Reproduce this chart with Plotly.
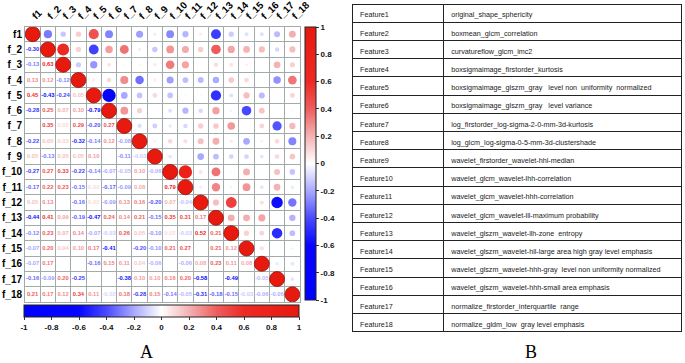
import math
import plotly.graph_objects as go

# ---------------- data ----------------
labels = ["f1", "f_2", "f_3", "f_4", "f_5", "f_6", "f_7", "f_8", "f_9",
          "f_10", "f_11", "f_12", "f_13", "f_14", "f_15", "f_16", "f_17", "f_18"]

# lower-triangle correlations, row by row (columns f1 .. previous feature)
row_f2 = [-0.30]
row_f3 = [-0.13, 0.63]
row_f4 = [0.13, 0.12, -0.12]
row_f5 = [0.45, -0.43, -0.24, 0.05]
row_f6 = [-0.28, 0.25, 0.07, 0.10, -0.79]
row_f7 = [0.00, 0.35, 0.02, 0.29, -0.20, 0.27]
row_f8 = [-0.22, 0.05, 0.03, -0.32, -0.14, 0.12, -0.08]
row_f9 = [0.05, -0.13, 0.05, 0.05, 0.10, 0.00, -0.11, -0.03]
row_f10 = [-0.27, 0.27, 0.33, -0.22, -0.14, -0.07, -0.05, 0.10, -0.06]
row_f11 = [-0.17, 0.22, 0.23, -0.15, 0.02, -0.17, -0.09, 0.08, 0.00, 0.79]
row_f12 = [0.05, 0.13, 0.00, -0.16, 0.02, -0.09, 0.13, 0.16, -0.20, 0.07, -0.04]
row_f13 = [-0.44, 0.41, 0.09, -0.19, -0.47, 0.24, 0.14, 0.21, -0.15, 0.35, 0.31, 0.17]
row_f14 = [-0.12, 0.23, 0.07, 0.14, -0.07, -0.03, 0.26, 0.05, -0.10, 0.02, -0.03, 0.52, 0.21]
row_f15 = [-0.07, 0.20, 0.04, 0.10, 0.17, -0.41, 0.00, -0.20, -0.10, 0.21, 0.27, 0.00, 0.21, 0.12]
row_f16 = [-0.07, 0.17, 0.00, 0.00, -0.16, 0.15, 0.11, 0.04, -0.06, 0.00, -0.06, 0.08, 0.23, 0.11, 0.08]
row_f17 = [-0.16, -0.09, 0.20, -0.25, 0.00, 0.00, -0.38, 0.10, 0.10, 0.16, 0.20, -0.58, 0.00, -0.49, 0.00, -0.05]
row_f18 = [0.21, 0.17, 0.12, 0.34, 0.11, -0.02, 0.18, -0.28, 0.15, -0.14, -0.05, -0.31, -0.18, -0.15, -0.03, -0.06, -0.06]

lower_rows = [row_f2, row_f3, row_f4, row_f5, row_f6, row_f7, row_f8, row_f9, row_f10,
              row_f11, row_f12, row_f13, row_f14, row_f15, row_f16, row_f17, row_f18]

bar_ticks = [-1, -0.8, -0.6, -0.4, -0.2, 0, 0.2, 0.4, 0.6, 0.8, 1]
bar_ticktext = ["-1", "-0.8", "-0.6", "-0.4", "-0.2", "0", "0.2", "0.4", "0.6", "0.8", "1"]

feature_ids = ["Feature%d" % k for k in range(1, 19)]
feature_names = [
    "original_shape_sphericity",
    "boxmean_glcm_correlation",
    "curvatureflow_glcm_imc2",
    "boxsigmaimage_firstorder_kurtosis",
    "boxsigmaimage_glszm_gray   level non  uniformity  normalized",
    "boxsigmaimage_glszm_gray   level variance",
    "log_firstorder_log-sigma-2-0-mm-3d-kurtosis",
    "log_glcm_log-sigma-0-5-mm-3d-clustershade",
    "wavelet_firstorder_wavelet-hhl-median",
    "wavelet_glcm_wavelet-lhh-correlation",
    "wavelet_glcm_wavelet-hhh-correlation",
    "wavelet_glcm_wavelet-lll-maximum probability",
    "wavelet_glszm_wavelet-llh-zone  entropy",
    "wavelet_glszm_wavelet-hll-large area high gray level emphasis",
    "wavelet_glszm_wavelet-hhh-gray  level non uniformity normalized",
    "wavelet_glszm_wavelet-hhh-small area emphasis",
    "normalize_firstorder_interquartile  range",
    "normalize_gldm_low  gray level emphasis",
]

# ---------------- styling ----------------
W, H = 685, 363
colorscale = [[0.0, "#0000FF"], [0.2, "#0606FF"], [0.3, "#4A4AFF"], [0.4, "#A9A9FF"],
              [0.5, "#FFFFFF"], [0.6, "#F4B2B2"], [0.7, "#EE5E5E"], [0.8, "#EC2A24"],
              [1.0, "#E8190F"]]


def hex2rgb(h):
    h = h.lstrip("#")
    return [int(h[i:i + 2], 16) for i in (0, 2, 4)]


def scale_color(v):
    t = (v + 1) / 2
    for k in range(len(colorscale) - 1):
        t0, c0 = colorscale[k]
        t1, c1 = colorscale[k + 1]
        if t <= t1:
            f = 0 if t1 == t0 else (t - t0) / (t1 - t0)
            a, b = hex2rgb(c0), hex2rgb(c1)
            rgb = [round(a[i] + (b[i] - a[i]) * f) for i in range(3)]
            return "rgb(%d,%d,%d)" % tuple(rgb)
    return colorscale[-1][1]


n = len(labels)
corr = [[0.0] * n for _ in range(n)]
for i in range(n):
    corr[i][i] = 1.0
for i, row in enumerate(lower_rows, start=1):
    for j, v in enumerate(row):
        corr[i][j] = v
        corr[j][i] = v

# upper triangle + diagonal : circles
cx, cy, csize, ccol, cline = [], [], [], [], []
for i in range(n):
    for j in range(i, n):
        v = corr[i][j]
        cx.append(labels[j])
        cy.append(labels[i])
        csize.append(15.0 * math.sqrt(abs(v)))
        ccol.append(v)
        cline.append(0.8 if i == j else 0)

# lower triangle : numbers
tx, ty, tt, tcol, tval = [], [], [], [], []
for i in range(n):
    for j in range(i):
        v = corr[i][j]
        tx.append(labels[j])
        ty.append(labels[i])
        tt.append("%.2f" % v)
        s = 1 if v >= 0 else -1
        tcol.append(scale_color(s * min(1.0, abs(v) ** 0.6)))
        tval.append(v)

x0, x1 = 25, 300
y0, y1 = 26.5, 302

fig = go.Figure()
fig.add_trace(go.Scatter(
    x=cx, y=cy, mode="markers",
    marker=dict(size=csize, color=ccol, colorscale=colorscale, cmin=-1, cmax=1,
                line=dict(width=cline, color="#8B1A10"), opacity=1,
                showscale=True,
                colorbar=dict(x=305 / W, xanchor="left", y=1 - 27 / H, yanchor="top",
                              len=273, lenmode="pixels", thickness=11, thicknessmode="pixels",
                              xpad=0, ypad=0, outlinewidth=1, outlinecolor="#222",
                              tickvals=bar_ticks, ticktext=bar_ticktext,
                              ticks="outside", ticklen=3, tickcolor="#333",
                              tickfont=dict(size=8, color="#111", family="Arial", weight="bold"))),
    hoverinfo="skip", showlegend=False))

fig.add_trace(go.Scatter(
    x=tx, y=ty, mode="markers+text", text=tt,
    textfont=dict(size=5.8, color=tcol, family="Arial", weight="bold"),
    textposition="middle center",
    marker=dict(size=1, opacity=0, color=tval, colorscale=colorscale, cmin=-1, cmax=1,
                showscale=True,
                colorbar=dict(orientation="h", x=24 / W, xanchor="left", y=1 - 305 / H,
                              yanchor="top", len=275, lenmode="pixels", thickness=12,
                              thicknessmode="pixels", xpad=0, ypad=0, outlinewidth=1,
                              outlinecolor="#222", tickvals=bar_ticks, ticktext=bar_ticktext,
                              ticks="outside", ticklen=3, tickcolor="#333",
                              tickfont=dict(size=8, color="#111", family="Arial", weight="bold"))),
    hoverinfo="skip", showlegend=False))

grid_col = "#A3ABAA"
fig.update_xaxes(
    domain=[x0 / W, x1 / W], range=[-0.5, n - 0.5], side="top",
    type="category", categoryorder="array", categoryarray=labels,
    tickangle=-45, showgrid=False, zeroline=False, ticks="", automargin=False,
    tickfont=dict(size=10, color="#000", family="Arial", weight="bold"),
    showline=True, mirror=True, linecolor=grid_col, linewidth=1,
    minor=dict(tickvals=[k + 0.5 for k in range(-1, n)], showgrid=True,
               gridcolor=grid_col, gridwidth=1, ticks=""),
    fixedrange=True)
fig.update_yaxes(
    domain=[1 - y1 / H, 1 - y0 / H], range=[n - 0.5, -0.5],
    type="category", categoryorder="array", categoryarray=labels,
    showgrid=False, zeroline=False, ticks="", automargin=False,
    tickfont=dict(size=10, color="#000", family="Arial", weight="bold"),
    showline=True, mirror=True, linecolor=grid_col, linewidth=1,
    minor=dict(tickvals=[k + 0.5 for k in range(-1, n)], showgrid=True,
               gridcolor=grid_col, gridwidth=1, ticks=""),
    fixedrange=True)

# table B
nb = lambda s: s.replace(" ", "\u00a0")
fig.add_trace(go.Table(
    domain=dict(x=[352 / W, 681 / W], y=[0, 1 - 4 / H]),
    columnwidth=[91, 237],
    header=dict(values=[nb(feature_ids[0]), nb(feature_names[0])], height=18.2,
                align="left", fill_color="white", line=dict(color="#222", width=1),
                font=dict(size=7.2, color="#1a1a1a", family="Arial")),
    cells=dict(values=[[nb(s) for s in feature_ids[1:]], [nb(s) for s in feature_names[1:]]],
               height=18.2, align="left", fill_color="white",
               line=dict(color="#222", width=1),
               font=dict(size=7.2, color="#1a1a1a", family="Arial"))))

fig.add_annotation(x=146 / W, y=1 - 352 / H, xref="paper", yref="paper", text="A",
                   xanchor="center", yanchor="middle", showarrow=False,
                   font=dict(size=18, family="Liberation Serif, Times New Roman, serif", color="#000"))
fig.add_annotation(x=531 / W, y=1 - 352 / H, xref="paper", yref="paper", text="B",
                   xanchor="center", yanchor="middle", showarrow=False,
                   font=dict(size=18, family="Liberation Serif, Times New Roman, serif", color="#000"))

fig.update_layout(width=W, height=H, margin=dict(l=0, r=0, t=0, b=0, autoexpand=False),
                  paper_bgcolor="white", plot_bgcolor="white", showlegend=False)

fig.write_html("out.html", config={"displayModeBar": False},
               post_script="document.body.style.margin='0';")
